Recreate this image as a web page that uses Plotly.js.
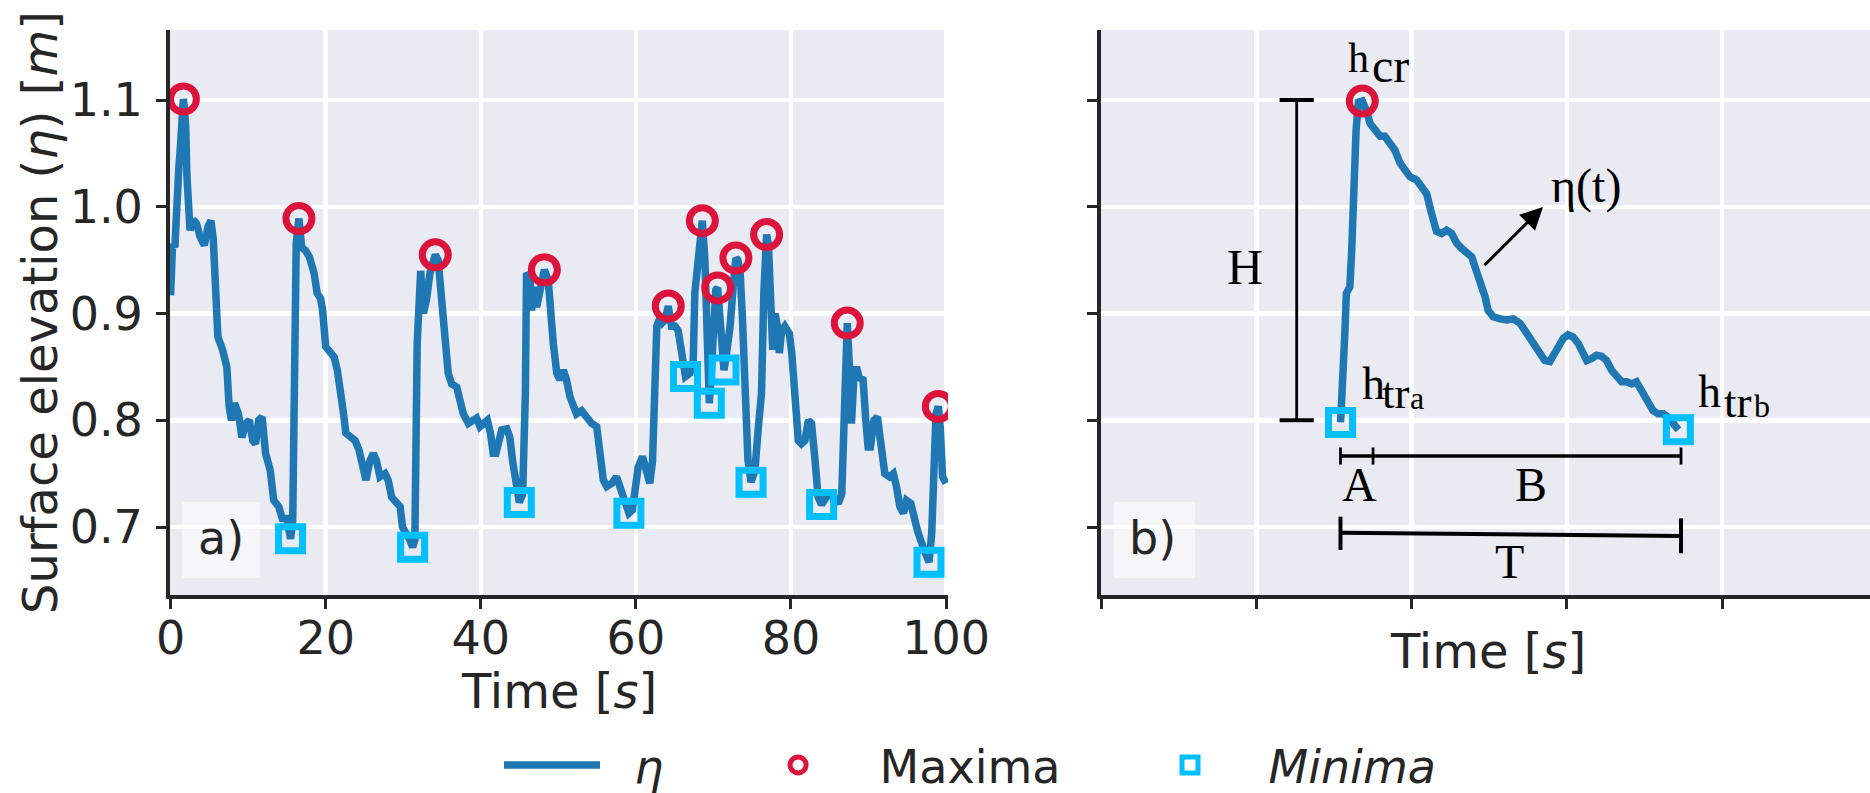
<!DOCTYPE html>
<html>
<head>
<meta charset="utf-8">
<script src="https://cdn.plot.ly/plotly-3.0.1.min.js"></script>
<style>
  html, body { margin: 0; padding: 0; background: #ffffff; }
  #chart { width: 1870px; height: 793px; }
</style>
</head>
<body>
<div id="chart"></div>
<script>
// ---------- (a) surface elevation record ----------
const timeA = [
  0.0, 0.25, 0.55, 0.8, 1.05, 1.3, 1.5, 1.65, 1.8, 1.95, 2.1, 2.2, 2.5, 2.9, 3.35, 3.8, 4.35, 4.85, 5.2, 5.5,
  5.85, 6.1, 6.7, 7.25, 7.55, 7.85, 8.25, 8.75, 9.2, 9.7, 10.15, 10.6, 10.95, 11.35, 11.8, 12.25, 12.85, 13.3, 13.95, 14.4,
  15.0, 15.47, 15.75, 15.95, 16.2, 16.55, 16.9, 17.4, 17.9, 18.5, 18.9, 19.35, 19.6, 20.0, 20.65, 21.1, 21.5, 21.95, 22.25, 22.6,
  23.25, 23.8, 24.3, 24.75, 25.2, 25.7, 26.15, 26.55, 27.0, 27.65, 28.05, 28.5, 29.15, 29.6, 29.9, 30.45, 30.85, 31.21, 31.5, 31.8,
  32.05, 32.25, 32.6, 33.0, 33.45, 33.8, 34.13, 34.5, 34.75, 35.1, 35.5, 35.8, 36.25, 36.9, 37.3, 37.75, 38.4, 39.05, 39.45, 39.9,
  40.4, 40.85, 41.25, 41.6, 41.95, 42.25, 42.7, 43.35, 43.75, 44.1, 44.4, 44.6, 44.97, 45.4, 45.55, 45.75, 45.9, 46.35, 46.55, 46.85,
  47.2, 47.65, 48.2, 48.7, 49.0, 49.35, 49.8, 50.2, 50.65, 51.05, 51.5, 51.95, 52.35, 53.0, 53.65, 54.3, 54.95, 55.35, 55.8, 56.25,
  56.9, 57.5, 57.95, 58.4, 58.8, 59.1, 59.55, 59.9, 60.3, 60.85, 61.25, 61.8, 62.15, 62.4, 62.7, 63.0, 63.35, 63.75, 64.18, 64.6,
  65.05, 65.45, 65.8, 66.1, 66.4, 66.95, 67.4, 67.6, 67.95, 68.3, 68.57, 68.9, 69.15, 69.47, 69.75, 70.0, 70.3, 70.55, 70.85, 71.05,
  71.36, 71.7, 72.15, 72.55, 72.9, 73.15, 73.45, 73.75, 74.1, 74.45, 74.85, 75.35, 75.8, 76.2, 76.5, 76.86, 77.1, 77.3, 77.4, 77.65,
  77.95, 78.25, 78.5, 78.8, 79.2, 79.8, 80.1, 80.5, 80.95, 81.35, 81.8, 82.25, 82.65, 83.1, 83.5, 83.95, 84.4, 84.8, 85.45, 86.1,
  86.55, 86.85, 87.1, 87.26, 87.5, 87.8, 88.1, 88.45, 88.8, 89.3, 89.65, 89.95, 90.25, 90.7, 91.15, 91.7, 92.1, 92.7, 93.2, 93.6,
  94.05, 94.5, 94.9, 95.45, 95.85, 96.3, 96.7, 97.3, 97.8, 98.15, 98.45, 98.7, 99.0, 99.25, 99.55, 100.0
];
const etaA = [
  0.917, 0.965, 0.962, 1.030, 1.035, 1.060, 1.090, 1.101, 1.090, 1.075, 1.030, 1.005, 0.978, 0.988, 0.984, 0.972, 0.964, 0.982, 0.987, 0.970,
  0.919, 0.878, 0.866, 0.850, 0.813, 0.800, 0.816, 0.806, 0.784, 0.797, 0.800, 0.781, 0.778, 0.800, 0.803, 0.769, 0.753, 0.725, 0.719, 0.708,
  0.708, 0.689, 0.706, 0.810, 0.966, 0.989, 0.962, 0.959, 0.953, 0.938, 0.919, 0.914, 0.903, 0.869, 0.864, 0.859, 0.847, 0.828, 0.809, 0.788,
  0.784, 0.781, 0.772, 0.753, 0.744, 0.762, 0.769, 0.762, 0.747, 0.750, 0.744, 0.728, 0.722, 0.719, 0.700, 0.694, 0.688, 0.681, 0.688, 0.872,
  0.938, 0.940, 0.900, 0.913, 0.938, 0.950, 0.955, 0.950, 0.925, 0.894, 0.869, 0.844, 0.834, 0.831, 0.819, 0.806, 0.797, 0.800, 0.802, 0.794,
  0.798, 0.800, 0.788, 0.769, 0.769, 0.781, 0.791, 0.792, 0.784, 0.762, 0.744, 0.731, 0.723, 0.731, 0.772, 0.825, 0.938, 0.934, 0.903, 0.925,
  0.906, 0.919, 0.941, 0.931, 0.894, 0.872, 0.844, 0.838, 0.847, 0.838, 0.822, 0.813, 0.806, 0.809, 0.803, 0.797, 0.794, 0.769, 0.744, 0.738,
  0.741, 0.747, 0.738, 0.725, 0.716, 0.713, 0.716, 0.734, 0.756, 0.766, 0.753, 0.741, 0.762, 0.825, 0.888, 0.894, 0.891, 0.894, 0.907, 0.888,
  0.888, 0.884, 0.863, 0.847, 0.841, 0.844, 0.856, 0.919, 0.944, 0.984, 0.987, 0.950, 0.888, 0.816, 0.847, 0.888, 0.922, 0.924, 0.888, 0.856,
  0.847, 0.863, 0.888, 0.925, 0.952, 0.950, 0.938, 0.894, 0.825, 0.763, 0.742, 0.753, 0.794, 0.825, 0.919, 0.974, 0.963, 0.903, 0.869, 0.866,
  0.900, 0.888, 0.863, 0.884, 0.888, 0.881, 0.863, 0.816, 0.781, 0.778, 0.781, 0.800, 0.797, 0.763, 0.728, 0.721, 0.725, 0.731, 0.728, 0.722,
  0.731, 0.794, 0.888, 0.891, 0.856, 0.797, 0.838, 0.850, 0.840, 0.838, 0.800, 0.775, 0.775, 0.800, 0.803, 0.778, 0.750, 0.747, 0.750, 0.738,
  0.719, 0.713, 0.725, 0.722, 0.706, 0.697, 0.688, 0.678, 0.667, 0.694, 0.738, 0.806, 0.813, 0.794, 0.747, 0.741
];
const maxTimeA = [1.65, 16.55, 34.13, 48.2, 64.18, 68.57, 70.55, 72.9, 76.86, 87.26, 99.0];
const maxEtaA  = [1.101, 0.989, 0.955, 0.941, 0.907, 0.987, 0.924, 0.952, 0.974, 0.891, 0.813];
const minTimeA = [15.47, 31.21, 44.97, 59.1, 66.4, 69.47, 71.36, 74.85, 83.95, 97.8];
const minEtaA  = [0.689, 0.681, 0.723, 0.713, 0.841, 0.816, 0.847, 0.742, 0.721, 0.667];

// ---------- (b) one wave, trough to trough ----------
const timeB = [
  30.85, 31.0, 31.4, 31.6, 32.05, 32.3, 32.5, 32.85, 33.15, 33.65, 34.2, 34.65, 35.3, 35.95, 36.55, 37.2, 37.85, 38.5, 39.15, 39.8,
  40.65, 41.3, 41.95, 42.45, 42.8, 43.2, 43.85, 44.5, 45.15, 45.8, 46.45, 47.1, 47.75, 48.15, 48.6, 49.0, 49.45, 49.85, 50.5, 51.4,
  52.25, 53.1, 53.95, 54.6, 55.25, 55.9, 56.55, 57.15, 57.8, 58.25, 58.9, 59.55, 60.15, 60.8, 61.45, 62.1, 62.55, 63.2, 63.8, 64.45,
  65.1, 65.75, 66.4, 67.05, 67.7, 68.35, 68.95, 69.4, 69.85, 70.5, 71.1, 71.75, 72.4, 73.05, 73.7, 74.35
];
const etaB = [
  0.798, 0.838, 0.881, 0.919, 0.925, 0.962, 1.025, 1.072, 1.098, 1.099, 1.090, 1.078, 1.072, 1.066, 1.066, 1.059, 1.053, 1.041, 1.034, 1.028,
  1.025, 1.019, 1.012, 0.997, 0.984, 0.977, 0.975, 0.978, 0.975, 0.966, 0.961, 0.956, 0.953, 0.944, 0.934, 0.928, 0.916, 0.903, 0.897, 0.895,
  0.894, 0.895, 0.891, 0.884, 0.877, 0.869, 0.861, 0.856, 0.855, 0.860, 0.869, 0.877, 0.880, 0.878, 0.872, 0.862, 0.856, 0.858, 0.861, 0.860,
  0.856, 0.847, 0.841, 0.836, 0.836, 0.834, 0.836, 0.831, 0.825, 0.816, 0.809, 0.806, 0.806, 0.803, 0.797, 0.791
];
const crestTimeB = [33.65];
const crestEtaB  = [1.099];
const troughTimeB = [30.85, 74.35];
const troughEtaB  = [0.798, 0.791];

// ---------- ticks ----------
const xTickVals = [0, 20, 40, 60, 80, 100];
const xTickText = ['0', '20', '40', '60', '80', '100'];
const yTickVals = [0.7, 0.8, 0.9, 1.0, 1.1];
const yTickText = ['0.7', '0.8', '0.9', '1.0', '1.1'];

// ---------- styling ----------
const W = 1870, H = 793;
const LINE_BLUE = '#1f77b4';
const CRIMSON = '#dc143c';
const SKY = '#00bfff';
const INK = '#262626';
const SANS = 'DejaVu Sans';
const SERIF = 'Liberation Serif';

const xDomainA = [170 / W, 948 / W];
const xDomainB = [1101 / W, 1];
const yDomain = [1 - 595 / H, 1 - 30 / H];
const yRange = [0.6363, 1.1656];

const axisStyle = {
  showline: true, linewidth: 4, linecolor: INK, mirror: false,
  ticks: 'outside', ticklen: 10, tickwidth: 3, tickcolor: INK,
  showgrid: true, gridcolor: '#ffffff', gridwidth: 4.5,
  zeroline: false,
  tickfont: { family: SANS, size: 46, color: INK }
};

const circleMarker = { symbol: 'circle-open', size: 26, color: CRIMSON, line: { color: CRIMSON, width: 7 } };
const squareMarker = { symbol: 'square-open', size: 24, color: SKY, line: { color: SKY, width: 7 } };

const traces = [
  { x: timeA, y: etaA, xaxis: 'x', yaxis: 'y', type: 'scatter', mode: 'lines',
    name: '\u00a0\u00a0<i>η</i>', legend: 'legend',
    line: { color: LINE_BLUE, width: 7.5 } },
  { x: maxTimeA, y: maxEtaA, xaxis: 'x', yaxis: 'y', type: 'scatter', mode: 'markers',
    name: 'Maxima', legend: 'legend2', marker: circleMarker },
  { x: minTimeA, y: minEtaA, xaxis: 'x', yaxis: 'y', type: 'scatter', mode: 'markers',
    name: '<i>Minima</i>', legend: 'legend3', marker: squareMarker },

  { x: timeB, y: etaB, xaxis: 'x2', yaxis: 'y2', type: 'scatter', mode: 'lines', showlegend: false,
    line: { color: LINE_BLUE, width: 7.5 } },
  { x: crestTimeB, y: crestEtaB, xaxis: 'x2', yaxis: 'y2', type: 'scatter', mode: 'markers', showlegend: false,
    marker: circleMarker },
  { x: troughTimeB, y: troughEtaB, xaxis: 'x2', yaxis: 'y2', type: 'scatter', mode: 'markers', showlegend: false,
    marker: squareMarker }
];

// schematic dimension lines in panel (b)
const hBarX = 25.2, capHalf = 2.2;
const abBarY = 0.7665, abTick = 0.008;
const periodStart = 30.84, crestMark = 35.03, periodEnd = 74.69;
const shapeLine = (x0, y0, x1, y1, w) => ({
  type: 'line', xref: 'x2', yref: 'y2', x0, y0, x1, y1,
  line: { color: '#000000', width: w }, layer: 'above'
});

const shapes = [
  // H
  shapeLine(hBarX, 0.8, hBarX, 1.1, 2.8),
  shapeLine(hBarX - capHalf, 1.1, hBarX + capHalf, 1.1, 4.2),
  shapeLine(hBarX - capHalf, 0.8, hBarX + capHalf, 0.8, 4.2),
  // A | B
  shapeLine(periodStart, abBarY, periodEnd, abBarY, 3.4),
  shapeLine(periodStart, abBarY - abTick, periodStart, abBarY + abTick, 2.8),
  shapeLine(crestMark, abBarY - abTick, crestMark, abBarY + abTick, 2.8),
  shapeLine(periodEnd, abBarY - abTick, periodEnd, abBarY + abTick, 2.8),
  // T
  shapeLine(periodStart, 0.6945, periodEnd, 0.6915, 4),
  shapeLine(periodStart, 0.6785, periodStart, 0.7097, 4),
  shapeLine(periodEnd, 0.6754, periodEnd, 0.7081, 4),
  // panel tag boxes
  { type: 'rect', xref: 'x domain', yref: 'y domain', x0: 0.0154, x1: 0.1157, y0: 0.030, y1: 0.1646,
    fillcolor: 'rgba(255,255,255,0.55)', line: { width: 0 }, layer: 'above' },
  { type: 'rect', xref: 'x2 domain', yref: 'y2 domain', x0: 0.0169, x1: 0.1222, y0: 0.030, y1: 0.1646,
    fillcolor: 'rgba(255,255,255,0.55)', line: { width: 0 }, layer: 'above' }
];

const serifLabel = (text, x, y, size, anchor) => ({
  text, x, y, xref: 'x2', yref: 'y2', showarrow: false,
  xanchor: anchor || 'left', yanchor: 'middle',
  font: { family: SERIF, size, color: '#000000' }
});

const timeTitle = (xCenter, yCenter) => ({
  text: 'Time [<i>s</i>]', xref: 'paper', yref: 'paper', x: xCenter, y: yCenter,
  xanchor: 'center', yanchor: 'middle', showarrow: false,
  font: { family: SANS, size: 48, color: INK }
});

const annotations = [
  // x-axis titles
  timeTitle((xDomainA[0] + xDomainA[1]) / 2, 1 - 690.5 / H),
  timeTitle(1488 / W, 1 - 651.4 / H),

  { text: 'a)', xref: 'x domain', yref: 'y domain', x: 0.0656, y: 0.1009, showarrow: false,
    xanchor: 'center', yanchor: 'middle', font: { family: SANS, size: 46, color: INK } },
  { text: 'b)', xref: 'x2 domain', yref: 'y2 domain', x: 0.0676, y: 0.1009, showarrow: false,
    xanchor: 'center', yanchor: 'middle', font: { family: SANS, size: 46, color: INK } },

  serifLabel('h', 31.55, 1.1392, 42),
  serifLabel('cr', 34.7, 1.1320, 48),
  serifLabel('H', 18.54, 0.9438, 50, 'center'),
  serifLabel('η(t)', 62.52, 1.0199, 48, 'center'),
  serifLabel('h', 33.4, 0.8347, 46),
  serifLabel('tr', 35.93, 0.8254, 45),
  serifLabel('a', 39.54, 0.8213, 32),
  serifLabel('h', 76.65, 0.8266, 46),
  serifLabel('tr', 79.95, 0.8172, 45),
  serifLabel('b', 83.84, 0.8134, 32),
  serifLabel('A', 33.35, 0.7398, 48, 'center'),
  serifLabel('B', 55.38, 0.7398, 48, 'center'),
  serifLabel('T', 52.61, 0.6677, 48, 'center'),

  // arrow pointing at the curve label
  { x: 56.92, y: 0.9999, ax: 49.19, ay: 0.9438, xref: 'x2', yref: 'y2', axref: 'x2', ayref: 'y2',
    text: '', showarrow: true, arrowhead: 2, arrowsize: 1.5, arrowwidth: 3, arrowcolor: '#000000', standoff: 0 }
];

const legendBase = {
  orientation: 'h', xref: 'container', yref: 'container', xanchor: 'left', yanchor: 'middle',
  y: 1 - 765 / H, bgcolor: 'rgba(0,0,0,0)', borderwidth: 0,
  font: { family: SANS, size: 46, color: INK }, itemsizing: 'trace', valign: 'middle'
};

const layout = {
  width: W, height: H,
  // fixed margins: legends and titles must not resize the panels
  margin: { l: 0, r: 0, t: 0, b: 0, pad: 0, autoexpand: false },
  paper_bgcolor: '#ffffff', plot_bgcolor: '#eaeaf2',
  font: { family: SANS, color: INK },
  hovermode: false,
  xaxis: Object.assign({}, axisStyle, {
    domain: xDomainA, range: [-0.077, 100.25], anchor: 'y',
    tickvals: xTickVals, ticktext: xTickText, ticklabelstandoff: -10
  }),
  yaxis: Object.assign({}, axisStyle, {
    domain: yDomain, range: yRange, anchor: 'x',
    tickvals: yTickVals, ticktext: yTickText, ticklabelstandoff: 4,
    title: { text: 'Surface elevation (<i>η</i>) [<i>m</i>]', font: { family: SANS, size: 48, color: INK } }
  }),
  xaxis2: Object.assign({}, axisStyle, {
    domain: xDomainB, range: [0, 99.03], anchor: 'y2',
    tickvals: [0, 20, 40, 60, 80], showticklabels: false
  }),
  yaxis2: Object.assign({}, axisStyle, {
    domain: yDomain, range: yRange, anchor: 'x2',
    tickvals: yTickVals, showticklabels: false
  }),
  legend: Object.assign({}, legendBase, { x: 499 / W, itemwidth: 96 }),
  legend2: Object.assign({}, legendBase, { x: 716.6 / W, itemwidth: 153 }),
  legend3: Object.assign({}, legendBase, { x: 1111.5 / W, itemwidth: 147 }),
  shapes, annotations
};

Plotly.newPlot('chart', traces, layout, { displayModeBar: false, staticPlot: true });
</script>
</body>
</html>
